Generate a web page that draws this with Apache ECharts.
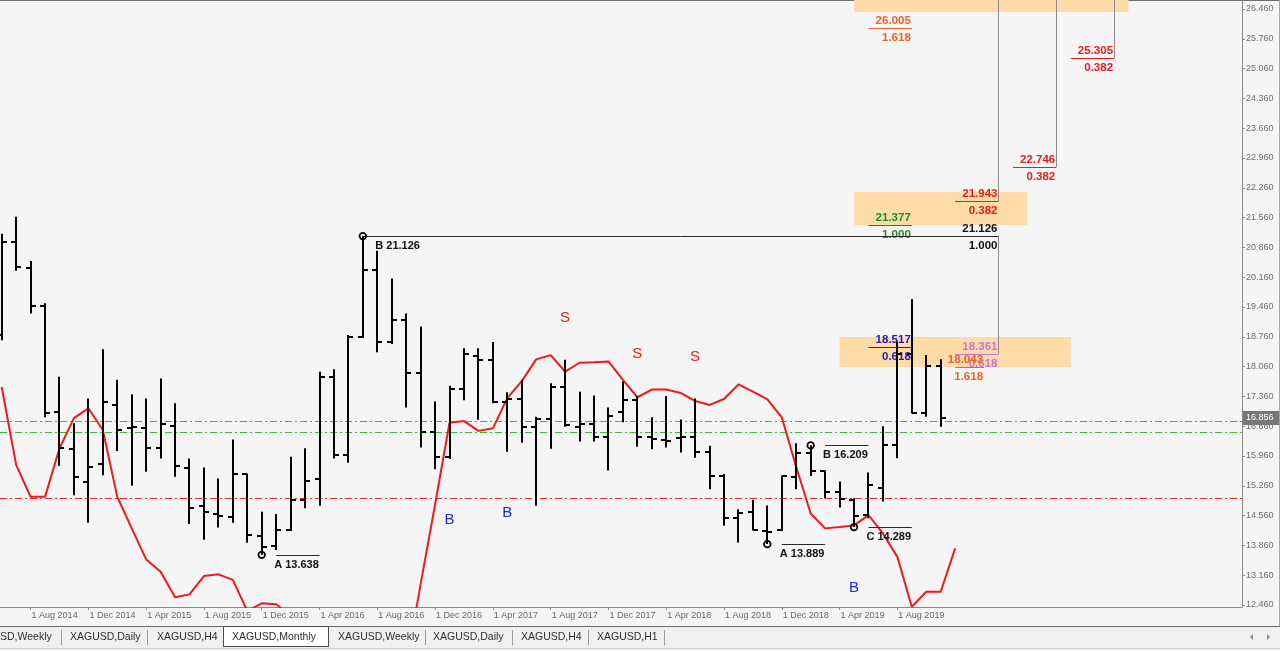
<!DOCTYPE html>
<html>
<head>
<meta charset="utf-8">
<title>XAGUSD, Monthly</title>
<script src="https://cdn.jsdelivr.net/npm/echarts@6.0.0/dist/echarts.min.js"></script>
<style>
html,body{margin:0;padding:0;background:#F5F5F5;overflow:hidden;}
#chart{width:1280px;height:651px;}
</style>
</head>
<body>
<div id="chart"></div>
<script>
// ---------- DATA ----------
const months = [
 '2014-06','2014-07','2014-08','2014-09','2014-10','2014-11','2014-12',
 '2015-01','2015-02','2015-03','2015-04','2015-05','2015-06','2015-07','2015-08','2015-09','2015-10','2015-11','2015-12',
 '2016-01','2016-02','2016-03','2016-04','2016-05','2016-06','2016-07','2016-08','2016-09','2016-10','2016-11','2016-12',
 '2017-01','2017-02','2017-03','2017-04','2017-05','2017-06','2017-07','2017-08','2017-09','2017-10','2017-11','2017-12',
 '2018-01','2018-02','2018-03','2018-04','2018-05','2018-06','2018-07','2018-08','2018-09','2018-10','2018-11','2018-12',
 '2019-01','2019-02','2019-03','2019-04','2019-05','2019-06','2019-07','2019-08','2019-09','2019-10','2019-11','2019-12'
];
const opens = [
 18.80,20.99,20.37,19.48,16.99,16.12,15.36,
 15.77,17.16,16.61,16.61,16.14,16.66,15.67,14.79,14.60,14.53,15.53,14.08,
 13.85,14.22,14.93,15.43,17.82,15.98,18.76,20.33,18.64,19.15,17.90,16.53,
 15.94,17.53,18.31,18.22,17.24,17.31,16.63,16.83,17.57,16.63,16.71,16.40,
 16.99,17.27,16.40,16.34,16.38,16.40,16.06,15.49,14.51,14.65,14.20,14.22,
 15.47,16.02,15.61,15.12,14.93,14.57,15.20,16.23,18.36,16.98,18.07];
const highs = [
 21.18,21.58,20.54,19.55,17.82,16.73,17.31,
 18.47,17.75,17.41,17.31,17.78,17.20,15.90,15.69,15.43,16.35,15.55,14.65,
 14.60,15.94,16.14,17.94,18.00,18.80,21.13,20.78,20.13,19.31,19.00,17.24,
 17.61,18.49,18.49,18.64,17.46,17.75,16.88,17.67,18.22,17.47,17.38,17.10,
 17.71,17.37,16.87,17.37,16.82,17.31,16.20,15.54,14.71,14.93,14.80,15.50,
 16.26,16.21,15.62,15.36,14.97,15.57,16.66,18.65,19.65,18.33,18.23];
const lows = [
 18.68,20.31,19.31,16.87,15.73,15.04,14.39,
 15.51,16.08,15.26,15.59,15.90,15.47,14.36,13.99,14.28,14.39,13.92,13.64,
 13.75,14.20,14.73,14.79,15.90,15.80,18.74,18.40,18.59,17.10,16.16,15.65,
 15.89,17.27,16.81,17.20,16.06,16.27,14.79,16.13,16.65,16.30,16.30,15.62,
 16.75,16.18,16.12,16.16,16.04,15.92,15.18,14.32,13.93,14.21,13.89,14.20,
 15.18,15.49,14.97,14.75,14.29,14.50,14.89,15.91,16.96,16.88,16.65];
const closes = [
 20.99,20.41,19.48,16.98,16.14,15.46,15.69,
 17.24,16.57,16.63,16.14,16.71,15.72,14.73,14.65,14.55,15.53,14.10,13.83,
 14.22,14.93,15.37,17.82,15.98,18.76,20.33,18.64,19.15,17.90,16.53,15.94,
 17.53,18.36,18.22,17.24,17.31,16.63,16.83,17.57,16.68,16.71,16.40,16.90,
 17.27,16.40,16.36,16.31,16.40,16.06,15.49,14.51,14.63,14.22,14.17,15.48,
 16.02,15.61,15.12,14.95,14.55,15.28,16.23,18.36,16.98,18.07,16.856];
// red indicator line (null = below the visible window, not readable)
const redLine = [
 17.58,15.75,15.00,15.00,16.14,16.85,17.08,
 16.57,15.00,14.26,13.53,13.24,12.64,12.71,13.14,13.18,13.05,12.32,12.50,
 12.48,12.20,null,null,null,null,null,null,null,11.03,12.95,14.82,
 16.74,16.78,16.55,16.61,17.32,17.72,18.23,18.33,17.94,18.15,18.16,18.18,
 17.75,17.34,17.52,17.52,17.44,17.25,17.16,17.30,17.64,17.47,17.29,16.87,
 15.70,14.61,14.26,14.29,14.33,14.57,14.14,13.59,12.42,12.77,12.77,13.79];
const greenLevels = [16.787, 16.531];
const redLevels = [14.966];
const xTickLabels = ['1 Aug 2014','1 Dec 2014','1 Apr 2015','1 Aug 2015','1 Dec 2015','1 Apr 2016','1 Aug 2016','1 Dec 2016',
 '1 Apr 2017','1 Aug 2017','1 Dec 2017','1 Apr 2018','1 Aug 2018','1 Dec 2018','1 Apr 2019','1 Aug 2019'];
const yTickLabels = ['26.460','25.760','25.060','24.360','23.660','22.960','22.260','21.560','20.860','20.160',
 '19.460','18.760','18.060','17.360','16.660','15.960','15.260','14.560','13.860','13.160','12.460'];
// Fibonacci objects
const fibPrices = [26.005, 25.305, 22.746, 21.943, 21.377, 21.126, 18.517, 18.361, 18.043];
const fibRatios = ['1.618','0.382','0.382','0.382','1.000','1.000','0.618','0.618','1.618'];
const fibStart  = ['2019-06','2020-08','2020-04','2019-12','2019-06','2016-07','2019-06','2019-12','2019-12'];
const fibEnd    = ['2019-09','2020-11','2020-07','2020-03','2019-09','2020-03','2019-09','2020-03','2020-02'];
const connMonth = ['2020-11','2020-07','2020-03','2020-03'];
const connFrom  = [null, null, null, 21.126];   // null = from top of window
const connTo    = [25.305, 22.746, 21.943, 18.361];
// zones
const boxStart = ['2019-05','2019-05','2019-04'];
const boxEnd   = ['2020-12','2020-05','2020-08'];
const boxLow   = [26.39, 21.386, 18.05];
const boxHigh  = [null, 22.16, 18.755];          // null = beyond top
// swing points
const pivotMonth = ['2015-12','2016-07','2018-11','2019-02','2019-05'];
const pivotName  = ['A','B','A','B','C'];
const pivotPrice = [13.638, 21.126, 13.889, 16.209, 14.289];
// signals
const sellMonths = ['2017-09','2018-02','2018-06'];
const buyMonths  = ['2017-01','2017-05','2019-05'];

// ---------- STYLE ----------
const fibColors = ['#EC6428','#E51E1E','#E51E1E','#E51E1E','#1F8A1F','#111111','#1C1CC4','#C476D6','#EC6428'];
const FONT = '"Liberation Sans", Arial, sans-serif';

// ---------- helpers ----------
const MN = {Jan:1,Feb:2,Mar:3,Apr:4,May:5,Jun:6,Jul:7,Aug:8,Sep:9,Oct:10,Nov:11,Dec:12};
function toIdx(s){ const [y,m] = s.split('-').map(Number); return (y-2014)*12 + (m-6); }
function labelIdx(l){ const p = l.split(' '); return (Number(p[2])-2014)*12 + (MN[p[1]]-6); }
const xTickPos = xTickLabels.map(labelIdx);
const yTicks = yTickLabels.map(Number);

const PX = 14.446;               // pixels per month
const xMin = -1.7/PX, xMax = xMin + 1242/PX;
const PY = 596/14;               // pixels per price unit
const yMax = 26.46 + 9/PY, yMin = 12.46 - 2/PY;

const barData = opens.map((o,i)=>[toIdx(months[i]), o, highs[i], lows[i], closes[i]]);
const redData = redLine.map((v,i)=>[toIdx(months[i]), v]);
const lastIdx = closes.length-1;
const lastClose = closes[lastIdx];
const levelData = greenLevels.map(v=>[0, v, 0]).concat(redLevels.map(v=>[0, v, 1]));

function renderBar(params, api){
  const i = api.value(0);
  const x = Math.round(api.coord([i, 15])[0]);
  const yO = Math.round(api.coord([i, api.value(1)])[1]);
  const yH = api.coord([i, api.value(2)])[1];
  const yL = api.coord([i, api.value(3)])[1];
  const yC = Math.round(api.coord([i, api.value(4)])[1]);
  const st = {stroke:'#000', lineWidth:2};
  return {type:'group', children:[
    {type:'line', shape:{x1:x, y1:yH, x2:x, y2:yL}, style:st},
    {type:'line', shape:{x1:x-5, y1:yO, x2:x, y2:yO}, style:st},
    {type:'line', shape:{x1:x, y1:yC, x2:x+5, y2:yC}, style:st}
  ]};
}
function renderLevel(params, api){
  const cs = params.coordSys;
  const y = Math.round(api.coord([0, api.value(1)])[1]) + 0.5;
  const col = api.value(2) === 0 ? '#33C033' : '#F02828';
  return {type:'line', shape:{x1:cs.x, y1:y, x2:cs.x+cs.width, y2:y},
    style:{stroke:col, lineWidth:1, lineDash:[7,3,2,3]}};
}
function renderPrice(params, api){
  const cs = params.coordSys;
  const y = Math.round(api.coord([api.value(0), api.value(1)])[1]);
  const x = cs.x + cs.width + 1;
  return {type:'group', children:[
    {type:'rect', shape:{x:x, y:y-7, width:36, height:14}, style:{fill:'#777777'}},
    {type:'text', x:x+3, y:y, style:{text:lastClose.toFixed(3), fill:'#ffffff', font:'9px '+FONT, textAlign:'left', textVerticalAlign:'middle'}}
  ]};
}
function renderBox(params, api){
  const a = api.coord([api.value(0), api.value(3)]);
  const b = api.coord([api.value(1), api.value(2)]);
  return {type:'rect', shape:{x:a[0], y:a[1], width:b[0]-a[0], height:b[1]-a[1]}, style:{fill:'#FFDBA8'}};
}
function renderFib(params, api){
  const k = params.dataIndex;
  const p0 = api.coord([api.value(0), api.value(2)]);
  const p1 = api.coord([api.value(1), api.value(2)]);
  const y = Math.round(p0[1]) + 0.5;
  const col = fibColors[k];
  const font = 'bold 11.5px ' + FONT;
  return {type:'group', children:[
    {type:'line', shape:{x1:p0[0], y1:y, x2:p1[0], y2:y}, style:{stroke: k===5 ? '#2a2a2a' : col, lineWidth:1}},
    {type:'text', x:p1[0]-1, y:y-8, style:{text:fibPrices[k].toFixed(3), fill:col, font:font, textAlign:'right', textVerticalAlign:'middle'}},
    {type:'text', x:p1[0]-1, y:y+9, style:{text:fibRatios[k], fill:col, font:font, textAlign:'right', textVerticalAlign:'middle'}}
  ]};
}
function renderConn(params, api){
  const a = api.coord([api.value(0), api.value(1)]);
  const b = api.coord([api.value(0), api.value(2)]);
  const x = Math.round(a[0]) + 0.5;
  return {type:'line', shape:{x1:x, y1:a[1], x2:x, y2:b[1]}, style:{stroke:'#8a8a8a', lineWidth:1}};
}
function renderPivot(params, api){
  const k = params.dataIndex;
  const i = api.value(0), p = api.value(1);
  const c = api.coord([i, p]);
  const l0 = api.coord([i+1, p]), l1 = api.coord([i+4, p]);
  const y = Math.round(c[1]) + 0.5;
  return {type:'group', children:[
    {type:'line', shape:{x1:l0[0], y1:y, x2:l1[0], y2:y}, style:{stroke:'#2a2a2a', lineWidth:1}},
    {type:'circle', shape:{cx:c[0], cy:c[1], r:3.3}, style:{fill:'rgba(0,0,0,0)', stroke:'#000', lineWidth:1.7}},
    {type:'text', x:l0[0]-2, y:y+9, style:{text:pivotName[k]+' '+pivotPrice[k].toFixed(3), fill:'#111', font:'bold 11px '+FONT, textAlign:'left', textVerticalAlign:'middle'}}
  ]};
}
function renderSignal(params, api){
  const i = api.value(0);
  const isSell = api.value(2) === 1;
  const c = api.coord([i, api.value(1)]);
  return {type:'text', x:c[0], y: isSell ? c[1]-42 : c[1]+61,
    style:{text: isSell ? 'S' : 'B', fill: isSell ? '#E82020' : '#2424E0', font:'15px '+FONT, textAlign:'center', textVerticalAlign:'middle'}};
}

const signalData = sellMonths.map(m=>{const i=toIdx(m); return [i, highs[i], 1];})
  .concat(buyMonths.map(m=>{const i=toIdx(m); return [i, lows[i], 0];}));

const option = {
  animation:false,
  backgroundColor:'#F5F5F5',
  grid:{left:0, top:0, right:38, bottom:44, containLabel:false},
  xAxis:{type:'value', min:xMin, max:xMax,
    axisLine:{show:true, onZero:false, lineStyle:{color:'#8a8a8a'}},
    axisTick:{show:true, length:3, customValues:xTickPos, lineStyle:{color:'#8a8a8a'}},
    axisLabel:{customValues:xTickPos, formatter:v=>xTickLabels[xTickPos.indexOf(Math.round(v))] || '',
      align:'left', color:'#666666', fontSize:9, fontFamily:'Liberation Sans', margin:4, padding:[0,0,0,1]},
    splitLine:{show:false}},
  yAxis:{type:'value', position:'right', min:yMin, max:yMax, scale:true,
    axisLine:{show:true, onZero:false, lineStyle:{color:'#8a8a8a'}},
    axisTick:{show:true, length:3, customValues:yTicks, lineStyle:{color:'#8a8a8a'}},
    axisLabel:{customValues:yTicks, formatter:v=>v.toFixed(3), color:'#6c6c6c', fontSize:9, fontFamily:'Liberation Sans', margin:4},
    splitLine:{show:false}},
  series:[
    {type:'custom', name:'zones', z:1, clip:true, renderItem:renderBox,
     data:boxStart.map((s,i)=>[toIdx(s), toIdx(boxEnd[i]), boxLow[i], boxHigh[i]===null ? yMax : boxHigh[i]]),
     encode:{x:[0,1], y:[2,3]}, silent:true},
    {type:'custom', name:'levels', z:2, clip:true, renderItem:renderLevel, data:levelData,
     encode:{x:0, y:1}, silent:true},
    {type:'line', name:'indicator', z:3, data:redData, symbol:'none', connectNulls:false, clip:true,
     lineStyle:{color:'#F01A1A', width:2}, silent:true},
    {type:'custom', name:'connectors', z:4, clip:true, renderItem:renderConn,
     data:connMonth.map((m,i)=>[toIdx(m), connFrom[i]===null ? yMax : connFrom[i], connTo[i]]), silent:true},
    {type:'custom', name:'fib', z:4, clip:false, renderItem:renderFib,
     data:fibPrices.map((p,i)=>[toIdx(fibStart[i]), toIdx(fibEnd[i]), p]), encode:{x:[0,1], y:2}, silent:true},
    {type:'custom', name:'pivots', z:5, clip:false, renderItem:renderPivot,
     data:pivotMonth.map((m,i)=>[toIdx(m), pivotPrice[i]]), silent:true},
    {type:'custom', name:'signals', z:5, clip:false, renderItem:renderSignal, data:signalData, silent:true},
    {type:'custom', name:'XAGUSD', z:6, clip:true, renderItem:renderBar, data:barData,
     encode:{x:0, y:[1,2,3,4]}, silent:true},
    {type:'custom', name:'price', z:7, clip:false, renderItem:renderPrice,
     data:[[toIdx(months[lastIdx]), lastClose]], encode:{x:0, y:1}, silent:true}
  ],
  graphic:[
    {type:'line', shape:{x1:0, y1:0.5, x2:1280, y2:0.5}, style:{stroke:'#6e6e6e', lineWidth:1}},
    {type:'line', shape:{x1:1279.5, y1:0, x2:1279.5, y2:626}, style:{stroke:'#a8a8a8', lineWidth:1}},
    {type:'rect', shape:{x:0, y:626, width:1280, height:25}, style:{fill:'#F0F0F0'}},
    {type:'line', shape:{x1:0, y1:626.5, x2:1280, y2:626.5}, style:{stroke:'#6a6a6a', lineWidth:1}},
    {type:'line', shape:{x1:0, y1:648.5, x2:1280, y2:648.5}, style:{stroke:'#cfcfcf', lineWidth:1}},
    {type:'rect', shape:{x:223.5, y:626.5, width:105, height:20}, style:{fill:'#ffffff', stroke:'#4a4a4a', lineWidth:1}},
    ...[61,147,425,512,588,664].map(x=>({type:'line', shape:{x1:x+0.5, y1:630, x2:x+0.5, y2:645}, style:{stroke:'#9a9a9a', lineWidth:1}})),
    ...[['SD,Weekly',0],['XAGUSD,Daily',70],['XAGUSD,H4',157],['XAGUSD,Monthly',232],['XAGUSD,Weekly',338],['XAGUSD,Daily',433],['XAGUSD,H4',521],['XAGUSD,H1',597]]
      .map(t=>({type:'text', x:t[1], y:637, style:{text:t[0], fill:'#2e2e2e', font:'10.5px '+FONT, textVerticalAlign:'middle'}})),
    {type:'polygon', shape:{points:[[1253,634],[1253,640],[1250,637]]}, style:{fill:'#8a8a8a'}},
    {type:'polygon', shape:{points:[[1267,634],[1267,640],[1270,637]]}, style:{fill:'#8a8a8a'}}
  ]
};
const chart = echarts.init(document.getElementById('chart'));
chart.setOption(option);
</script>
</body>
</html>
